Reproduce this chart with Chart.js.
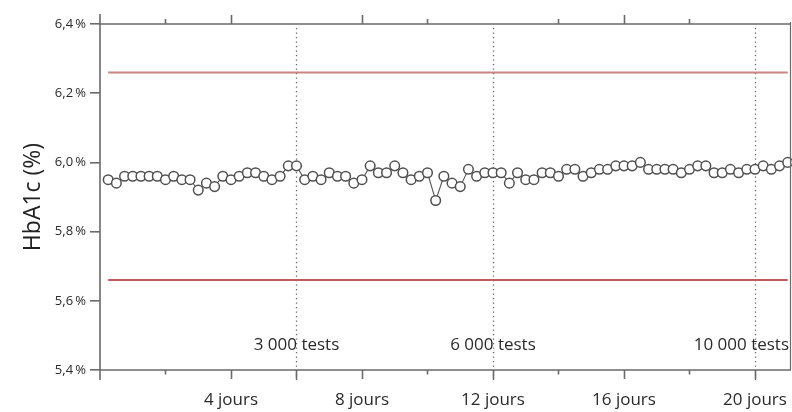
<!DOCTYPE html>
<html><head><meta charset="utf-8">
<script src="https://cdn.jsdelivr.net/npm/chart.js@4"></script>
<style>html,body{margin:0;padding:0;background:#fff;overflow:hidden}canvas{display:block}</style>
</head><body><canvas id="c" width="792" height="412" style="width:792px;height:412px"></canvas>
<script>
// ---- data ----
const days = [0.25,0.5,0.75,1,1.25,1.5,1.75,2,2.25,2.5,2.75,3,3.25,3.5,3.75,4,4.25,4.5,4.75,5,5.25,5.5,5.75,6,
  6.25,6.5,6.75,7,7.25,7.5,7.75,8,8.25,8.5,8.75,9,9.25,9.5,9.75,10,10.25,10.5,10.75,11,11.25,11.5,11.75,12,
  12.25,12.5,12.75,13,13.25,13.5,13.75,14,14.25,14.5,14.75,15,15.25,15.5,15.75,16,16.25,16.5,16.75,17,17.25,17.5,17.75,18,
  18.25,18.5,18.75,19,19.25,19.5,19.75,20,20.25,20.5,20.75,21];
const hba1c = [5.95,5.94,5.96,5.96,5.96,5.96,5.96,5.95,5.96,5.95,5.95,5.92,5.94,5.93,5.96,5.95,5.96,5.97,5.97,5.96,5.95,5.96,5.99,5.99,
  5.95,5.96,5.95,5.97,5.96,5.96,5.94,5.95,5.99,5.97,5.97,5.99,5.97,5.95,5.96,5.97,5.89,5.96,5.94,5.93,5.98,5.96,5.97,5.97,
  5.97,5.94,5.97,5.95,5.95,5.97,5.97,5.96,5.98,5.98,5.96,5.97,5.98,5.98,5.99,5.99,5.99,6.00,5.98,5.98,5.98,5.98,5.97,5.98,
  5.99,5.99,5.97,5.97,5.98,5.97,5.98,5.98,5.99,5.98,5.99,6.00];
const upperLimit = 6.26;
const lowerLimit = 5.66;
const limitDays = [0.25, 21];
const xMin = 0, xMax = 21.1;
const xTickDays = [2,4,6,8,10,12,14,16,18,20];
const xLabelDays = [4,8,12,16,20];
const xLabelTexts = ['4 jours','8 jours','12 jours','16 jours','20 jours'];
const markerDays = [6,12,20];
const markerTexts = ['3 000 tests','6 000 tests','10 000 tests'];
const yTicks = [5.4,5.6,5.8,6.0,6.2,6.4];
const yTitle = 'HbA1c (%)';

const FONT = '"Open Sans", "DejaVu Sans", sans-serif';
const AXIS = '#6a6a6a';

const pts = days.map((d,i)=>({x:d,y:hba1c[i]}));
const upper = limitDays.map(d=>({x:d,y:upperLimit}));
const lower = limitDays.map(d=>({x:d,y:lowerLimit}));

const framePlugin = {
  id:'frame',
  beforeDatasetsDraw(chart){
    const {ctx, chartArea:a, scales:{x}} = chart;
    ctx.save();
    ctx.strokeStyle = '#666';
    ctx.lineWidth = 1.3;
    ctx.setLineDash([1.3,3.2]);
    markerDays.forEach(d=>{
      const px = Math.round(x.getPixelForValue(d))+0.5;
      ctx.beginPath(); ctx.moveTo(px,a.top+4); ctx.lineTo(px,a.bottom+10); ctx.stroke();
    });
    ctx.restore();
  },
  afterDraw(chart){
    const {ctx, chartArea:a, scales:{x}} = chart;
    ctx.save();
    ctx.strokeStyle = AXIS;
    ctx.lineWidth = 1.6;
    ctx.beginPath();
    ctx.moveTo(a.left, a.top-10); ctx.lineTo(a.left, a.bottom+10);
    ctx.moveTo(a.left, a.bottom); ctx.lineTo(a.right, a.bottom);
    ctx.moveTo(a.left, a.top); ctx.lineTo(a.right, a.top);
    ctx.stroke();
    ctx.lineWidth = 1.2;
    ctx.beginPath(); ctx.moveTo(a.right-0.5, a.top-2); ctx.lineTo(a.right-0.5, a.bottom); ctx.stroke();
    ctx.lineWidth = 1.6;
    xTickDays.forEach(d=>{
      const px = Math.round(x.getPixelForValue(d))+0.5;
      const isMarker = markerDays.includes(d);
      const isLong = xLabelDays.includes(d) || isMarker;
      ctx.beginPath();
      ctx.moveTo(px, a.bottom); ctx.lineTo(px, a.bottom + (isLong ? 9 : 4.5));
      if(!isMarker){ ctx.moveTo(px, a.top); ctx.lineTo(px, a.top - (xLabelDays.includes(d) ? 9 : 5)); }
      ctx.stroke();
    });
    ctx.fillStyle = '#2a2a2a';
    ctx.font = '17px ' + FONT;
    ctx.textAlign = 'center';
    ctx.textBaseline = 'alphabetic';
    markerDays.forEach((d,i)=>{
      const w = ctx.measureText(markerTexts[i]).width;
      let cx = x.getPixelForValue(d);
      if (cx + w/2 > a.right - 2) cx = a.right - 2 - w/2;
      ctx.fillText(markerTexts[i], cx, a.bottom - 20);
    });
    ctx.restore();
  }
};

new Chart(document.getElementById('c'), {
  type:'line',
  data:{datasets:[
    {data:upper, borderColor:'#c98484', borderWidth:2, pointRadius:0, order:3},
    {data:lower, borderColor:'#c05a5c', borderWidth:2, pointRadius:0, order:2},
    {data:pts, borderColor:'#555', borderWidth:1.1, pointRadius:4.8, pointBorderWidth:1.5,
     pointBorderColor:'#505050', pointBackgroundColor:'#fff', pointStyle:'circle', tension:0, order:1, clip:false}
  ]},
  plugins:[framePlugin],
  options:{
    responsive:false, animation:false, devicePixelRatio:1,
    layout:{autoPadding:false, padding:{top:24,right:1,left:0,bottom:0}},
    plugins:{legend:{display:false}, tooltip:{enabled:false}},
    scales:{
      x:{type:'linear', min:xMin, max:xMax,
        afterBuildTicks(s){ s.ticks = [xMin, ...xLabelDays, xMax].map(v=>({value:v})); },
        afterFit(s){ s.height = 42; s.paddingLeft = 0; s.paddingRight = 0; },
        border:{display:false},
        grid:{display:true, drawOnChartArea:false, drawTicks:true, tickLength:20, color:'rgba(0,0,0,0)'},
        ticks:{autoSkip:false, maxRotation:0, padding:0, color:'#2a2a2a', font:{family:FONT,size:17},
          callback(v){ const i = xLabelDays.indexOf(v); return i>=0 ? xLabelTexts[i] : ''; }}
      },
      y:{type:'linear', min:5.4, max:6.4,
        afterBuildTicks(s){ s.ticks = yTicks.map(v=>({value:v})); },
        afterFit(s){ s.width = 100; },
        border:{display:false},
        grid:{display:true, drawOnChartArea:false, drawTicks:true, tickLength:10, color:AXIS, lineWidth:1.6},
        ticks:{padding:4, color:'#2a2a2a', font:{family:FONT,size:13},
          callback(v){ return v.toFixed(1).replace('.', ',') + '\u2009%'; }},
        title:{display:true, text:yTitle, color:'#222', font:{family:FONT,size:23}, padding:{top:20,bottom:0}}
      }
    }
  }
});
</script>
</body></html>
